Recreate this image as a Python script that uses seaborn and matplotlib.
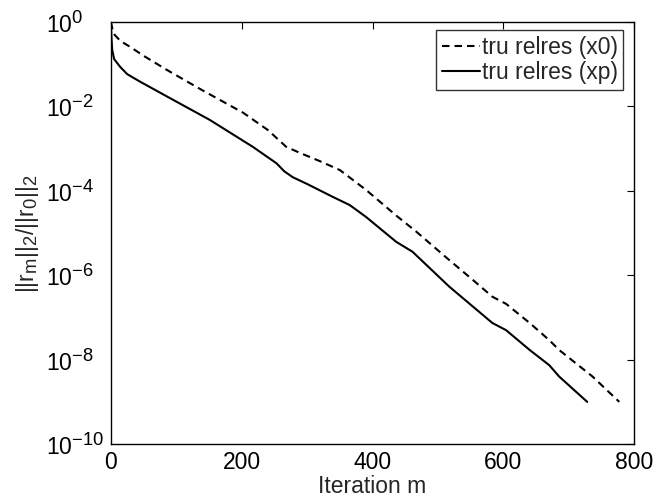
import matplotlib
matplotlib.use("Agg")
import matplotlib.pyplot as plt
import matplotlib.ticker as mticker
import matplotlib._mathtext as _mt
import seaborn as sns
import pandas as pd

# Data
iter_x0 = [0, 3, 6, 15, 29, 50, 85, 140, 202, 240, 268, 289, 320, 350, 390,
           436, 467, 517, 553, 583, 604, 640, 670, 685, 736, 777]
relres_x0 = [1.0, 0.62, 0.49, 0.35, 0.26, 0.158, 0.074, 0.024, 7.1e-3,
             2.75e-3, 1.1e-3, 7.9e-4, 5.0e-4, 3.1e-4, 1.05e-4, 2.6e-5, 1.07e-5,
             2.3e-6, 7.8e-7, 3.1e-7, 2.1e-7, 7.4e-8, 2.9e-8, 1.7e-8, 4.0e-9,
             1.0e-9]

iter_xp = [0, 1, 2, 5, 14, 25, 44, 90, 151, 217, 253, 265, 278, 300, 339, 365,
           390, 436, 461, 517, 550, 583, 604, 640, 670, 685, 728]
relres_xp = [1.0, 0.39, 0.22, 0.132, 0.087, 0.058, 0.039, 0.0158, 4.8e-3,
             1.1e-3, 4.5e-4, 2.9e-4, 2.1e-4, 1.45e-4, 7.2e-5, 4.6e-5, 2.4e-5,
             6.2e-6, 3.6e-6, 5.4e-7, 2.0e-7, 7.4e-8, 5.0e-8, 1.7e-8, 7.4e-9,
             4.0e-9, 1.0e-9]

labels = ["tru relres (x0)", "tru relres (xp)"]
x_ticks = [0, 200, 400, 600, 800]
y_ticks = [1e0, 1e-2, 1e-4, 1e-6, 1e-8, 1e-10]

df = pd.concat([
    pd.DataFrame({"iter": iter_x0, "relres": relres_x0, "series": labels[0]}),
    pd.DataFrame({"iter": iter_xp, "relres": relres_xp, "series": labels[1]}),
], ignore_index=True)

sns.set_style("white")
plt.rcParams["font.family"] = ["Liberation Sans", "DejaVu Sans"]
plt.rcParams["mathtext.fontset"] = "custom"
plt.rcParams["mathtext.rm"] = "Liberation Sans"
plt.rcParams["mathtext.it"] = "Liberation Sans"
plt.rcParams["mathtext.default"] = "regular"
# MATLAB-like larger super/subscripts
_mt.SHRINK_FACTOR = 0.8

FS = 16.5

fig = plt.figure(figsize=(6.56, 4.99), dpi=100)
ax = fig.add_axes([0.169, 0.110, 0.798, 0.846])

sns.lineplot(data=df, x="iter", y="relres", style="series",
             dashes={labels[0]: (3.6, 2.4), labels[1]: ""},
             color="black", linewidth=1.5, ax=ax, sort=False, estimator=None)

ax.set_yscale("log")
ax.set_xlim(0, 800)
ax.set_ylim(1e-10, 1e0)
ax.set_xticks(x_ticks)
ax.set_yticks(y_ticks)
ax.yaxis.set_major_formatter(mticker.LogFormatterMathtext())
ax.yaxis.set_minor_locator(mticker.NullLocator())
ax.tick_params(axis="both", which="major", direction="in", length=5,
               width=0.8, top=True, right=True, labelsize=FS, colors="black")
ax.tick_params(axis="x", pad=5)
ax.tick_params(axis="y", pad=47)
for lbl in ax.get_yticklabels():
    lbl.set_horizontalalignment("left")
for s in ax.spines.values():
    s.set_visible(True)
    s.set_color("black")
    s.set_linewidth(1.0)

ax.set_xlabel("Iteration m", fontsize=FS, labelpad=1)
ax.set_ylabel(r"$||r_m||_2/||r_0||_2$", fontsize=FS, labelpad=3)

leg = ax.legend(loc="upper right", bbox_to_anchor=(0.979, 0.981),
                fontsize=FS, frameon=True, fancybox=False,
                edgecolor="black", handlelength=1.7, handletextpad=0.05,
                borderpad=0.25, labelspacing=0.1, borderaxespad=0.0)
leg.get_frame().set_linewidth(1.0)

fig.savefig("out.png", dpi=100)
